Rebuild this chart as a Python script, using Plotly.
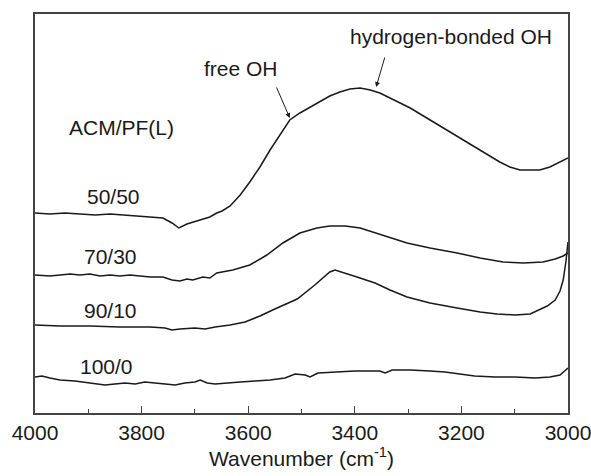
import plotly.graph_objects as go

# FTIR spectra of ACM/PF(L) blends in the OH stretching region
wn_5050 = [4000, 3972, 3944, 3916, 3887, 3859, 3831, 3803, 3784, 3760, 3743, 3730,
           3715, 3690, 3672, 3659, 3649, 3634, 3615, 3597, 3578, 3559, 3540, 3522,
           3503, 3484, 3465, 3447, 3428, 3409, 3390, 3371, 3353, 3325, 3296, 3268,
           3240, 3212, 3184, 3156, 3128, 3109, 3090, 3071, 3053, 3034, 3015, 3000]
ab_5050 = [2.00, 1.99, 2.00, 1.99, 1.98, 1.99, 1.98, 1.97, 1.96, 1.95, 1.90, 1.85,
           1.89, 1.93, 1.96, 2.00, 2.02, 2.07, 2.18, 2.31, 2.46, 2.63, 2.79, 2.93,
           3.00, 3.06, 3.12, 3.17, 3.21, 3.24, 3.25, 3.23, 3.20, 3.13, 3.05, 2.96,
           2.87, 2.78, 2.69, 2.60, 2.51, 2.46, 2.43, 2.43, 2.43, 2.46, 2.51, 2.55]

wn_7030 = [4000, 3972, 3953, 3934, 3916, 3897, 3878, 3859, 3841, 3822, 3803, 3784,
           3760, 3743, 3728, 3715, 3704, 3685, 3672, 3659, 3629, 3597, 3565, 3535,
           3503, 3471, 3447, 3418, 3390, 3353, 3302, 3259, 3208, 3165, 3122, 3084,
           3047, 3024, 3009, 3000]
ab_7030 = [1.38, 1.37, 1.38, 1.39, 1.38, 1.39, 1.37, 1.38, 1.37, 1.38, 1.37, 1.36,
           1.36, 1.33, 1.32, 1.34, 1.33, 1.36, 1.35, 1.40, 1.43, 1.48, 1.58, 1.70,
           1.80, 1.85, 1.87, 1.87, 1.85, 1.79, 1.70, 1.65, 1.60, 1.55, 1.51, 1.50,
           1.51, 1.54, 1.57, 1.60]

wn_9010 = [4000, 3953, 3897, 3841, 3784, 3756, 3743, 3728, 3700, 3681, 3662, 3634,
           3606, 3578, 3550, 3508, 3475, 3447, 3437, 3418, 3396, 3362, 3334,
           3302, 3259, 3208, 3165, 3133, 3099, 3071, 3039, 3024, 3015, 3009, 3004,
           3000]
ab_9010 = [0.88, 0.87, 0.87, 0.86, 0.86, 0.85, 0.83, 0.84, 0.85, 0.84, 0.86, 0.88,
           0.91, 0.97, 1.04, 1.14, 1.28, 1.41, 1.43, 1.40, 1.36, 1.30, 1.23,
           1.16, 1.10, 1.05, 1.01, 0.99, 0.98, 0.99, 1.07, 1.13, 1.22, 1.33, 1.51,
           1.71]

wn_1000 = [4000, 3987, 3972, 3953, 3925, 3897, 3869, 3850, 3831, 3812, 3794, 3775,
           3756, 3737, 3719, 3700, 3690, 3677, 3662, 3644, 3615, 3587, 3559, 3531,
           3512, 3493, 3484, 3469, 3437, 3400, 3353, 3343, 3330, 3296, 3259, 3231,
           3203, 3175, 3137, 3099, 3062, 3034, 3015, 3000]
ab_1000 = [0.36, 0.37, 0.35, 0.33, 0.32, 0.30, 0.28, 0.29, 0.30, 0.29, 0.31, 0.30,
           0.29, 0.28, 0.30, 0.31, 0.33, 0.30, 0.29, 0.30, 0.31, 0.32, 0.33, 0.35,
           0.39, 0.38, 0.36, 0.40, 0.41, 0.42, 0.42, 0.40, 0.43, 0.43, 0.42, 0.41,
           0.39, 0.37, 0.36, 0.36, 0.35, 0.36, 0.38, 0.45]

series = [("50/50", wn_5050, ab_5050), ("70/30", wn_7030, ab_7030),
          ("90/10", wn_9010, ab_9010), ("100/0", wn_1000, ab_1000)]

# Curve labels (text, wavenumber, absorbance)
labels = [("ACM/PF(L)", 3837, 2.86), ("50/50", 3853, 2.17), ("70/30", 3859, 1.57),
          ("90/10", 3859, 1.03), ("100/0", 3865, 0.47),
          ("free OH", 3613, 3.45), ("hydrogen-bonded OH", 3219, 3.77)]

# Arrows (tail wavenumber, tail absorbance, tip wavenumber, tip absorbance)
arrows = [(3548, 3.27, 3522, 2.95), (3343, 3.57, 3360, 3.26)]

FONT = "Liberation Sans, Arial, sans-serif"
FS = 21
INK = "#1a1a1a"

fig = go.Figure()
for name, wn, ab in series:
    fig.add_trace(go.Scatter(x=wn, y=ab, mode="lines", name=name,
                             line=dict(color=INK, width=1.5), showlegend=False))

for text, x, y in labels:
    fig.add_annotation(x=x, y=y, text=text, showarrow=False,
                       xanchor="center", yanchor="middle",
                       font=dict(family=FONT, size=FS, color=INK))

for tx, ty, hx, hy in arrows:
    fig.add_annotation(x=hx, y=hy, ax=tx, ay=ty, axref="x", ayref="y",
                       text="", showarrow=True, arrowhead=2, arrowsize=1,
                       arrowwidth=1, arrowcolor=INK, standoff=0)

fig.update_layout(
    width=591, height=476,
    margin=dict(l=35, r=23, t=14, b=63),
    paper_bgcolor="white", plot_bgcolor="white",
    font=dict(family=FONT, size=FS, color=INK),
)
fig.update_xaxes(
    range=[4000, 3000], tickvals=[4000, 3800, 3600, 3400, 3200, 3000],
    ticks="inside", ticklen=7, tickwidth=1.2, tickcolor="#444",
    minor=dict(tickvals=[3900, 3700, 3500, 3300, 3100], ticks="inside",
               ticklen=4, tickwidth=1.2, tickcolor="#444"),
    showline=True, linecolor="#444", linewidth=1.5, mirror=True,
    showgrid=False, zeroline=False,
    ticklabeloverflow="allow", automargin=False,
    tickfont=dict(family=FONT, size=FS, color=INK),
    title=dict(text="Wavenumber (cm<sup>-1</sup>)", standoff=4,
               font=dict(family=FONT, size=FS, color=INK)),
)
fig.update_yaxes(
    range=[0, 3.99], showticklabels=False, ticks="", automargin=False,
    showline=True, linecolor="#444", linewidth=1.5, mirror=True,
    showgrid=False, zeroline=False,
)

fig.write_html("out.html")
